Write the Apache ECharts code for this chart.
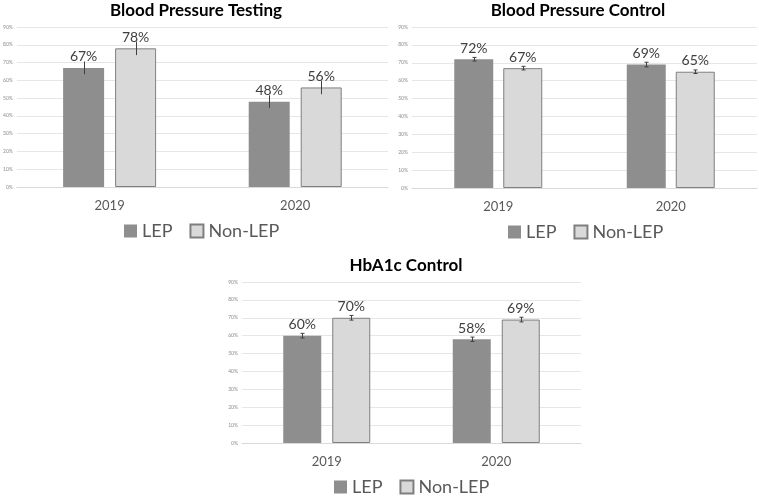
<!DOCTYPE html>
<html>
<head>
<meta charset="utf-8">
<script src="https://cdn.jsdelivr.net/npm/echarts@6/dist/echarts.min.js"></script>
<style>
    html, body { margin: 0; padding: 0; background: #fff; }
    #main { width: 759px; height: 496px; }
</style>
</head>
<body>
<div id="main"></div>
<script>
    'use strict';

    // data
    var categories = ['2019', '2020'];
    var seriesNames = ['LEP', 'Non-LEP'];
    var chartTitles = ['Blood Pressure Testing', 'Blood Pressure Control', 'HbA1c Control'];

    var testingLep = [67, 48];
    var testingNonLep = [78, 56];
    var testingLepErr = [3.6, 3.6];
    var testingNonLepErr = [3.8, 3.8];

    var controlLep = [72, 69];
    var controlNonLep = [67, 65];
    var controlLepErr = [1.0, 1.3];
    var controlNonLepErr = [1.0, 1.0];

    var hba1cLep = [60, 58];
    var hba1cNonLep = [70, 69];
    var hba1cLepErr = [1.3, 1.2];
    var hba1cNonLepErr = [1.3, 1.3];

    var yTicks = [0, 10, 20, 30, 40, 50, 60, 70, 80, 90];

    var LEP_COLOR = '#8e8e8e';
    var NON_COLOR = '#d9d9d9';
    var FONT = 'Lato';

    // layout for each panel
    var panels = [
        {grid: {left: 16, right: 371, top: 27, bottom: 309}, titleX: 191, titleY: -3, legendX: 119, legendY: 217,
            barWidth: 41, gap: 11, lep: testingLep, non: testingNonLep, lepErr: testingLepErr, nonErr: testingNonLepErr, cap: 0},
        {grid: {left: 412, right: 2, top: 27, bottom: 308}, titleX: 573, titleY: -3, legendX: 503, legendY: 218,
            barWidth: 39, gap: 10, lep: controlLep, non: controlNonLep, lepErr: controlLepErr, nonErr: controlNonLepErr, cap: 2},
        {grid: {left: 242, right: 178, top: 282, bottom: 53}, titleX: 401, titleY: 252, legendX: 329, legendY: 473,
            barWidth: 38, gap: 11, lep: hba1cLep, non: hba1cNonLep, lepErr: hba1cLepErr, nonErr: hba1cNonLepErr, cap: 2}
    ];

    function errorSeries(idx, values, errs, offset, cap) {
        return {
            type: 'custom',
            xAxisIndex: idx,
            yAxisIndex: idx,
            silent: true,
            z: 5,
            data: values.map(function (v, i) { return [i, v - errs[i], v + errs[i]]; }),
            renderItem: function (params, api) {
                var lo = api.coord([api.value(0), api.value(1)]);
                var hi = api.coord([api.value(0), api.value(2)]);
                var x = Math.round(lo[0] + offset) + 0.5;
                var style = {stroke: '#404040', lineWidth: 1};
                var children = [{type: 'line', shape: {x1: x, y1: lo[1], x2: x, y2: hi[1]}, style: style}];
                if (cap > 0) {
                    children.push({type: 'line', shape: {x1: x - cap, y1: lo[1], x2: x + cap, y2: lo[1]}, style: style});
                    children.push({type: 'line', shape: {x1: x - cap, y1: hi[1], x2: x + cap, y2: hi[1]}, style: style});
                }
                return {type: 'group', children: children};
            }
        };
    }

    var option = {
        backgroundColor: '#fff',
        animation: false,
        title: [],
        legend: [],
        grid: [],
        xAxis: [],
        yAxis: [],
        series: []
    };

    for (var i = 0; i < panels.length; i++) {
        var p = panels[i];
        option.title.push({
            text: chartTitles[i],
            left: p.titleX,
            top: p.titleY,
            textAlign: 'center',
            textStyle: {fontFamily: FONT, fontWeight: 'bold', fontSize: 17, color: '#000'}
        });
        option.legend.push({
            data: seriesNames,
            left: p.legendX,
            top: p.legendY,
            icon: 'rect',
            itemWidth: 13,
            itemHeight: 13,
            itemGap: 17,
            textStyle: {fontFamily: FONT, fontSize: 18, color: '#595959'}
        });
        option.grid.push(p.grid);
        option.xAxis.push({
            type: 'category',
            gridIndex: i,
            data: categories,
            axisTick: {show: false},
            axisLine: {lineStyle: {color: '#d9d9d9'}},
            axisLabel: {fontFamily: FONT, fontSize: 13, color: '#595959', margin: 12}
        });
        option.yAxis.push({
            type: 'value',
            gridIndex: i,
            min: yTicks[0],
            max: yTicks[yTicks.length - 1],
            interval: yTicks[1] - yTicks[0],
            axisLine: {show: false},
            axisTick: {show: false},
            splitLine: {lineStyle: {color: '#e6e6e6'}},
            axisLabel: {fontFamily: FONT, fontSize: 5, color: '#8c8c8c', margin: 4, formatter: '{value}%'}
        });
        var half = (p.barWidth + p.gap) / 2;
        var labelCfg = {show: true, position: 'top', distance: 4, formatter: '{c}%',
            fontFamily: FONT, fontSize: 14, color: '#404040'};
        option.series.push({
            name: seriesNames[0],
            type: 'bar',
            xAxisIndex: i,
            yAxisIndex: i,
            data: p.lep,
            barWidth: p.barWidth,
            barGap: (p.gap / p.barWidth * 100) + '%',
            itemStyle: {color: LEP_COLOR},
            label: labelCfg
        });
        option.series.push({
            name: seriesNames[1],
            type: 'bar',
            xAxisIndex: i,
            yAxisIndex: i,
            data: p.non,
            barWidth: p.barWidth,
            barGap: (p.gap / p.barWidth * 100) + '%',
            itemStyle: {color: NON_COLOR, borderColor: '#7f7f7f', borderWidth: 1},
            label: labelCfg
        });
        option.series.push(errorSeries(i, p.lep, p.lepErr, -half, p.cap));
        option.series.push(errorSeries(i, p.non, p.nonErr, half, p.cap));
    }

    var chart = echarts.init(document.getElementById('main'));
    chart.setOption(option);
</script>
</body>
</html>
